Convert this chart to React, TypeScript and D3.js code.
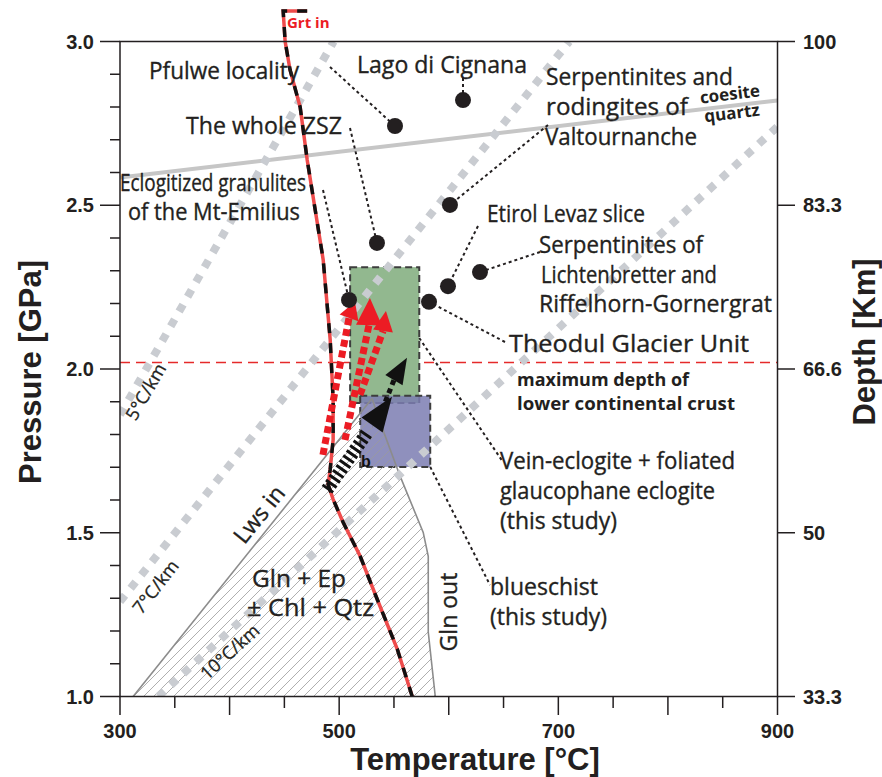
import React from 'react';
import * as d3 from 'd3';

const W = 882;
const H = 777;

// axes
const tempMajor = [300, 400, 500, 600, 700, 800, 900];
const tempMinor = [350, 450, 550, 650, 750, 850];
const tempLabels = [300, 500, 700, 900];
const presMajor = [1.0, 1.5, 2.0, 2.5, 3.0];
const presMinor = [1.1, 1.2, 1.3, 1.4, 1.6, 1.7, 1.8, 1.9, 2.1, 2.2, 2.3, 2.4, 2.6, 2.7, 2.8, 2.9];
const depthLabels = ['33.3', '50', '66.6', '83.3', '100'];

// geotherms [T, P]
const geo5: [number, number][] = [[300, 1.86], [495, 3.0]];
const geo7: [number, number][] = [[300, 1.29], [710, 3.0]];
const geo10: [number, number][] = [[335, 1.0], [900, 2.74]];
const coesiteQuartz: [number, number][] = [[300, 2.585], [900, 2.82]];
const maxCrustP = 2.02;

// reactions
const grtIn: [number, number][] = [
  [470.8, 3.093], [448.9, 3.093], [450.7, 3.0], [455.2, 2.913], [464.4, 2.8], [470.8, 2.639],
  [476.2, 2.526], [485.4, 2.334], [491.8, 2.09], [494.5, 1.907], [494.5, 1.784], [491.8, 1.693],
  [489.9, 1.648], [494.5, 1.602], [503.6, 1.532], [519.2, 1.428], [534.7, 1.297], [553.0, 1.145],
  [566.7, 1.0],
];
const lwsIn: [number, number][] = [[312, 1.0], [530, 1.91]];
const glnOut: [number, number][] = [
  [530, 1.91], [537.4, 1.837], [555.7, 1.672], [576.7, 1.501], [581.3, 1.428], [581.3, 1.197], [587.7, 1.0],
];

// boxes [Tmin, Tmax, Pmin, Pmax]
const eclogiteBox = [510.0, 573.1, 1.896, 2.311];
const blueschistBox = [519.2, 583.1, 1.701, 1.918];

// localities (T, P)
const localities: [number, number][] = [
  [550.95, 2.742], // Pfulwe
  [613.0, 2.821], // Lago di Cignana
  [534.5, 2.385], // whole ZSZ
  [601.1, 2.501], // Valtournanche
  [628.5, 2.296], // Lichtenbretter
  [599.3, 2.253], // Etirol Levaz
  [509.0, 2.211], // Mt-Emilius
  [582.0, 2.205], // Theodul
];

// P-T paths: start, base, tip (T,P)
const redPaths: [number, number][][] = [
  [[485.2, 1.738], [509.0, 2.156], [514.4, 2.205]],
  [[505.3, 1.783], [527.2, 2.134], [528.1, 2.217]],
  [[519.0, 1.921], [540.0, 2.116], [542.7, 2.177]],
];
const blackComb: [number, number][] = [[488.9, 1.631], [525.4, 1.805]];
const blackPaths: [number, number][][] = [
  [[530.0, 1.829], [530.0, 1.829], [548.2, 1.915]],
  [[539.1, 1.875], [550.0, 1.966], [561.9, 2.034]],
];

const x = d3.scaleLinear().domain([300, 900]).range([120, 777.5]);
const y = d3.scaleLinear().domain([1, 3]).range([696.5, 41.5]);

const LF = "'Open Sans', 'Noto Sans', sans-serif";
const AF = "'Liberation Sans', Arial, sans-serif";
const INK = '#231f20';

const line = d3.line<[number, number]>().x((d) => x(d[0])).y((d) => y(d[1]));

function head(base: [number, number], tip: [number, number], hw: number) {
  const bx = x(base[0]), by = y(base[1]);
  const tx = x(tip[0]), ty = y(tip[1]);
  const dx = tx - bx, dy = ty - by;
  const L = Math.hypot(dx, dy) || 1;
  const nx = -dy / L, ny = dx / L;
  return `${bx + nx * hw},${by + ny * hw} ${tx},${ty} ${bx - nx * hw},${by - ny * hw}`;
}

function Box({ b, fill, opacity }: { b: number[]; fill: string; opacity: number }) {
  return (
    <rect
      x={x(b[0])}
      y={y(b[3])}
      width={x(b[1]) - x(b[0])}
      height={y(b[2]) - y(b[3])}
      fill={fill}
      fillOpacity={opacity}
      stroke="#3d3d3d"
      strokeWidth={2}
      strokeDasharray="7,4"
    />
  );
}

// label: text, x, baseline y, width
const labels: [string, number, number, number][] = [
  ['Pfulwe locality', 149, 79, 150],
  ['Lago di Cignana', 357, 73, 170],
  ['Serpentinites and', 546, 85, 187],
  ['rodingites of', 546, 115, 142],
  ['Valtournanche', 545, 145, 152],
  ['The whole ZSZ', 186, 134, 156],
  ['Eclogitized granulites', 120, 191, 186],
  ['of the Mt-Emilius', 128, 220, 172],
  ['Etirol Levaz slice', 487, 222, 158],
  ['Serpentinites of', 539, 253, 164],
  ['Lichtenbretter and', 541, 283, 176],
  ['Riffelhorn-Gornergrat', 539, 312, 233],
  ['Theodul Glacier Unit', 509, 352, 240],
  ['Vein-eclogite + foliated', 500, 469, 235],
  ['glaucophane eclogite', 500, 499, 215],
  ['(this study)', 500, 529, 117],
  ['blueschist', 490, 595, 108],
  ['(this study)', 490, 625, 117],
  ['Gln + Ep', 252, 587, 94],
  ['± Chl + Qtz', 247, 616, 127],
];

export default function App() {
  const hatchPoly = [...lwsIn, ...glnOut.slice(1)];
  const dot = (i: number) => [x(localities[i][0]), y(localities[i][1])];
  const leaders: [number, number, number][] = [
    [330, 67, 0],
    [463, 78, 1],
    [350, 128, 2],
    [548, 125, 3],
    [540, 252, 4],
    [478, 226, 5],
    [323, 190, 6],
    [505, 342, 7],
  ];
  const geoStyle = { fill: 'none', stroke: '#c9ccd1', strokeWidth: 8, strokeDasharray: '8,9' };
  return (
    <svg width={W} height={H} style={{ position: 'absolute', left: 0, top: 0, background: '#fff' }}>
      <defs>
        <pattern id="hatch" patternUnits="userSpaceOnUse" width={10} height={10}>
          <path d="M-2.5,2.5 l5,-5 M0,10 l10,-10 M7.5,12.5 l5,-5" stroke="#9a9a9a" strokeWidth={0.8} />
        </pattern>
        <clipPath id="plot">
          <rect x={120} y={41.5} width={657.5} height={655} />
        </clipPath>
      </defs>

      {/* max depth of lower continental crust */}
      <line x1={120} x2={777.5} y1={y(maxCrustP)} y2={y(maxCrustP)} stroke="#e52a2a" strokeWidth={1.6} strokeDasharray="10,6" />

      {/* coesite-quartz */}
      <path d={line(coesiteQuartz) || ''} fill="none" stroke="#c6c6c6" strokeWidth={4} />

      {/* boxes */}
      <Box b={eclogiteBox} fill="#92b88f" opacity={1} />
      <Box b={blueschistBox} fill="#7b7db2" opacity={0.85} />

      {/* hatched field */}
      <path d={(line(hatchPoly) || '') + 'Z'} fill="url(#hatch)" stroke="none" />
      <path d={line(lwsIn) || ''} fill="none" stroke="#8c8c8c" strokeWidth={1.6} />
      <path d={line(glnOut) || ''} fill="none" stroke="#8c8c8c" strokeWidth={1.6} />

      {/* geotherms */}
      <g clipPath="url(#plot)">
        <path d={line(geo5) || ''} {...geoStyle} />
        <path d={line(geo7) || ''} {...geoStyle} />
        <path d={line(geo10) || ''} {...geoStyle} />
      </g>

      {/* Grt in */}
      <path d={line(grtIn) || ''} fill="none" stroke="#ee4b4b" strokeWidth={3.5} />
      <path d={line(grtIn) || ''} fill="none" stroke="#111" strokeWidth={3.5} strokeDasharray="10,10" />
      <text x={287} y={28} fontFamily={LF} fontWeight={700} fontSize={15} fill="#ec1c24">Grt in</text>

      {/* red P-T paths */}
      {redPaths.map((p, i) => (
        <g key={'r' + i}>
          <path d={line([p[0], p[1]]) || ''} fill="none" stroke="#ec1c24" strokeWidth={7} strokeDasharray="7,4" />
          <polygon points={head(p[1], p[2], i === 1 ? 13 : 10)} fill="#ec1c24" />
        </g>
      ))}

      {/* black P-T paths */}
      <path d={line(blackComb) || ''} fill="none" stroke="#111" strokeWidth={13} strokeDasharray="3,3" />
      {blackPaths.map((p, i) => (
        <g key={'b' + i}>
          <path d={line([p[0], p[1]]) || ''} fill="none" stroke="#111" strokeWidth={5} strokeDasharray="5,4" />
          <polygon points={head(p[1], p[2], i === 0 ? 13 : 10)} fill="#111" />
        </g>
      ))}
      <text x={361} y={467} fontFamily={AF} fontWeight={700} fontSize={16} fill="#111">b</text>

      {/* leader lines */}
      <g stroke={INK} strokeWidth={2} strokeDasharray="3,3" fill="none">
        {leaders.map(([lx, ly, i], k) => {
          const [dx, dy] = dot(i);
          return <line key={k} x1={lx} y1={ly} x2={dx} y2={dy} />;
        })}
        <line x1={x(eclogiteBox[1])} y1={338} x2={503} y2={462} />
        <line x1={x(blueschistBox[1])} y1={y(blueschistBox[2])} x2={490} y2={585} />
      </g>

      {/* locality dots */}
      {localities.map((d, i) => (
        <circle key={i} cx={x(d[0])} cy={y(d[1])} r={8} fill={INK} />
      ))}

      {/* labels */}
      <g fontFamily={LF} fontSize={23} fill={INK} stroke={INK} strokeWidth={0.35}>
        {labels.map(([t, lx, ly, w], k) => (
          <text key={k} x={lx} y={ly} textLength={w} lengthAdjust="spacingAndGlyphs">{t}</text>
        ))}
        <text transform="translate(260,515) rotate(-51)" textAnchor="middle" dy={7}>Lws in</text>
        <text transform="translate(457,612) rotate(-90)" textAnchor="middle">Gln out</text>
      </g>
      <g fontFamily={LF} fontSize={18} fill={INK} stroke={INK} strokeWidth={0.3}>
        <text transform="translate(146,392) rotate(-60)" textAnchor="middle" dy={6}>5°C/km</text>
        <text transform="translate(156,587) rotate(-52)" textAnchor="middle" dy={6}>7°C/km</text>
        <text transform="translate(230,652) rotate(-42)" textAnchor="middle" dy={6}>10°C/km</text>
      </g>
      <g fontFamily={LF} fontSize={17} fontWeight={700} fill={INK}>
        <text x={517} y={386} textLength={172} lengthAdjust="spacingAndGlyphs">maximum depth of</text>
        <text x={517} y={410} textLength={218} lengthAdjust="spacingAndGlyphs">lower continental crust</text>
        <text transform="translate(730,95) rotate(-7)" textAnchor="middle" dy={5}>coesite</text>
        <text transform="translate(732,114) rotate(-7)" textAnchor="middle" dy={5}>quartz</text>
      </g>

      {/* frame */}
      <rect x={120} y={41.5} width={657.5} height={655} fill="none" stroke={INK} strokeWidth={1.5} />

      {/* ticks */}
      <g stroke={INK} strokeWidth={1.5}>
        {tempMajor.map((t) => (
          <line key={'tM' + t} x1={x(t)} x2={x(t)} y1={696.5} y2={715} />
        ))}
        {tempMinor.map((t) => (
          <line key={'tm' + t} x1={x(t)} x2={x(t)} y1={696.5} y2={708} />
        ))}
        {presMajor.map((p) => (
          <line key={'pM' + p} x1={100} x2={120} y1={y(p)} y2={y(p)} />
        ))}
        {presMinor.map((p) => (
          <line key={'pm' + p} x1={110} x2={120} y1={y(p)} y2={y(p)} />
        ))}
        {presMajor.map((p) => (
          <line key={'dM' + p} x1={777.5} x2={795} y1={y(p)} y2={y(p)} />
        ))}
      </g>
      <g fontFamily={AF} fontWeight={700} fontSize={20} fill={INK}>
        {tempLabels.map((t) => (
          <text key={'tl' + t} x={x(t)} y={738} textAnchor="middle">{t}</text>
        ))}
        {presMajor.map((p) => (
          <text key={'pl' + p} x={94} y={y(p) + 7} textAnchor="end">{p.toFixed(1)}</text>
        ))}
        {presMajor.map((p, i) => (
          <text key={'dl' + p} x={803} y={y(p) + 7}>{depthLabels[i]}</text>
        ))}
      </g>
      <g fontFamily={AF} fontWeight={700} fontSize={31} fill={INK}>
        <text x={475} y={770} textAnchor="middle">Temperature [°C]</text>
        <text transform="translate(41,372) rotate(-90)" textAnchor="middle">Pressure [GPa]</text>
        <text transform="translate(875,342) rotate(-90)" textAnchor="middle">Depth [Km]</text>
      </g>
    </svg>
  );
}
